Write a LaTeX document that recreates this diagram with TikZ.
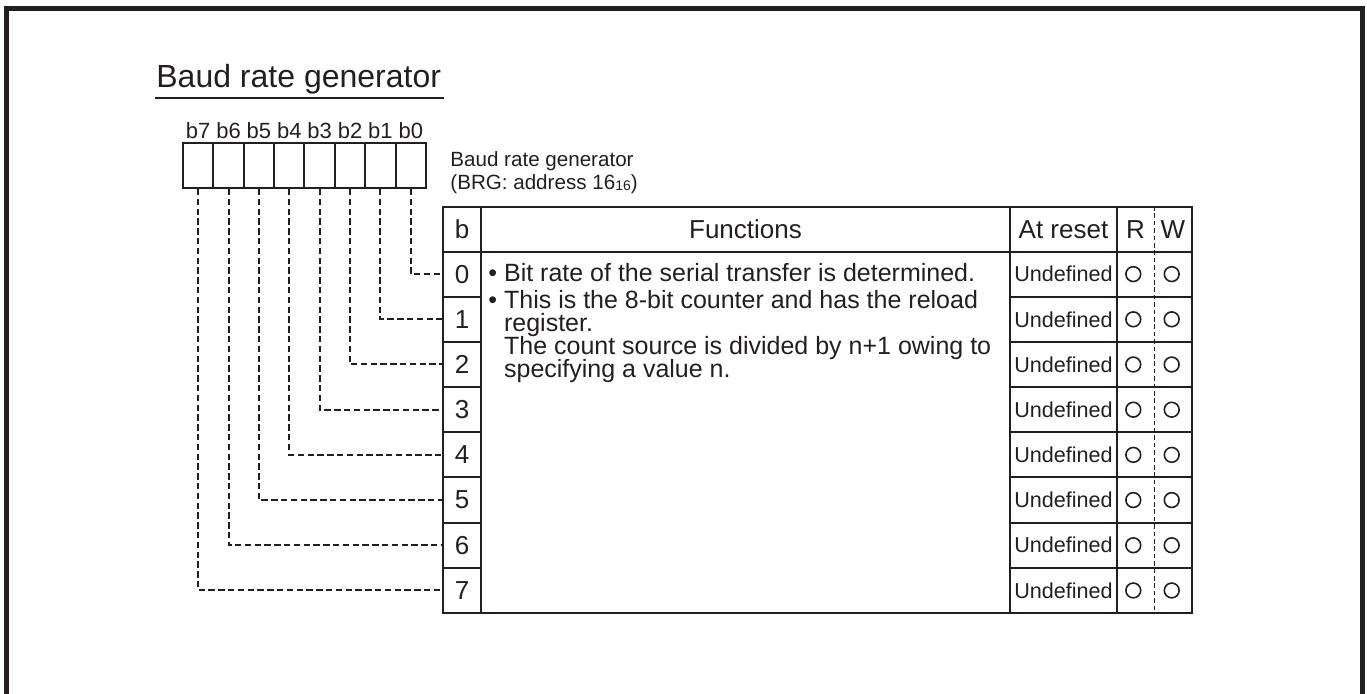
\documentclass[tikz,border=0pt]{standalone}
\usepackage{fontspec}
\setmainfont{Liberation Sans}
\definecolor{ink}{RGB}{35, 31, 32}
\usetikzlibrary{positioning}
\tikzset{
	outerframe/.style={draw=ink, line width=2.6pt},
	titlerule/.style={draw=ink, line width=0.85pt},
	titletext/.style={anchor=base west, inner sep=0pt, text=ink, font=\fontsize{16}{18}\selectfont},
	subtext/.style={anchor=base west, inner sep=0pt, text=ink, font=\fontsize{10.3}{12}\selectfont},
	bitbox/.style={draw=ink, line width=1pt, inner sep=0pt, minimum width=15.19pt, minimum height=22.5pt},
	bitlbl/.style={inner sep=0pt, text=ink, font=\fontsize{11}{12}\selectfont},
	cell/.style={draw=ink, line width=1pt, inner sep=0pt, minimum height=22.6pt, text=ink, font=\fontsize{13}{15}\selectfont},
	hcell/.style={cell, minimum height=22.25pt},
	rstcell/.style={cell, minimum width=53.5pt, font=\fontsize{10.8}{12}\selectfont},
	hlbl/.style={inner sep=0pt, text=ink, font=\fontsize{13}{15}\selectfont},
	fntext/.style={anchor=base west, inner sep=0pt, text=ink, font=\fontsize{12.5}{14}\selectfont},
	okmark/.style={draw=ink, line width=0.8pt},
	link/.style={draw=ink, line width=1pt, dash pattern=on 3.2pt off 1.7pt},
	rwsep/.style={draw=ink, line width=0.75pt, dash pattern=on 2.3pt off 1.4pt},
}
\begin{document}
\begin{tikzpicture}[x=0.5pt, y=-0.5pt]
	\useasboundingbox (0,0) rectangle (1367,693);
	\draw[outerframe] (6.5,700) -- (6.5,8.5) -- (1362.5,8.5) -- (1362.5,700);
	% title
	\node[titletext] (ttl) at (156,87.3) {Baud rate generator};
	\draw[titlerule] (155,98) -- (444,98);
	% register bits
	\foreach \b in {0,...,7}{
		\node[bitbox] (bit\b) at ({410.8-30.375*\b},165.5) {};
		\node[bitlbl, above=1.5pt of bit\b] (lbl\b) {b\b};
	}
	\node[subtext] (sub1) at (450,166.5) {Baud rate generator};
	\node[subtext] (sub2) at (450,189) {(BRG: address 16\raisebox{-0.6pt}{\fontsize{7}{8}\selectfont 16})};
	% table header
	\node[hcell, minimum width=19pt] (hb) at (462,229.25) {b};
	\node[hcell, minimum width=264.5pt] (hfn) at (745.5,229.25) {Functions};
	\node[hcell, minimum width=53.5pt] (hrst) at (1063.5,229.25) {At reset};
	\node[hcell, minimum width=37.5pt] (hrw) at (1154.5,229.25) {};
	\node[hlbl] (hr) at (1135.5,229.25) {R};
	\node[hlbl] (hw) at (1173,229.25) {W};
	% functions cell
	\node[cell, minimum width=264.5pt, minimum height=180.75pt] (fnbody) at (745.5,432.25) {};
	\node[fntext] (fn1) at (488,281.5) {• Bit rate of the serial transfer is determined.};
	\node[fntext] (fn2) at (488,308.5) {• This is the 8-bit counter and has the reload};
	\node[fntext] (fn3) at (488,331.5) {\hphantom{• }register.};
	\node[fntext] (fn4) at (488,354.5) {\hphantom{• }The count source is divided by n+1 owing to};
	\node[fntext] (fn5) at (488,377.5) {\hphantom{• }specifying a value n.};
	% rows
	\foreach \i in {0,...,7}{
		\pgfmathsetmacro{\yc}{274.1+45.19*\i}
		\node[cell, minimum width=19pt] (b\i) at (462,\yc) {\i};
		\node[rstcell] (rst\i) at (1063.5,\yc) {Undefined};
		\node[cell, minimum width=37.5pt] (rw\i) at (1154.5,\yc) {};
		\draw[okmark] ([xshift=-10.6pt]rw\i.center) circle[radius=3.7pt];
		\draw[okmark] ([xshift=8.6pt]rw\i.center) circle[radius=3.7pt];
		\draw[link] (bit\i.south) |- (b\i.west);
	}
	\draw[rwsep] (hrw.north) -- (rw7.south);
\end{tikzpicture}
\end{document}
